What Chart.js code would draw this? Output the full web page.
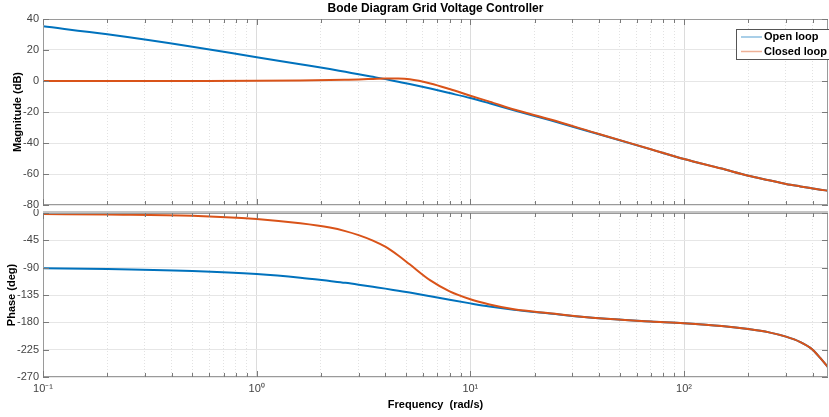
<!DOCTYPE html>
<html lang="en">
<head>
  <meta charset="UTF-8">
  <title>Bode Diagram Grid Voltage Controller</title>
  <style>
    html, body { margin: 0; padding: 0; background: #fff; overflow: hidden; }
    canvas { position: absolute; left: 0; }
    #magChart { top: 0; }
    #phaseChart { top: 209px; }
  </style>
</head>
<body>
  <canvas id="magChart" width="829" height="209"></canvas>
  <canvas id="phaseChart" width="829" height="208"></canvas>

  <script src="https://cdn.jsdelivr.net/npm/chart.js"></script>
  <script>
    // values (rad/s, dB, deg)
    const freqs      = [0.1, 0.2, 0.5, 1, 1.6, 2.2, 2.6, 3, 3.5, 4, 4.6, 5.2, 6.5, 8, 10, 12.3, 16, 23.5, 40, 70, 100, 150, 200, 250, 300, 350, 400, 435, 472];
    const openMag    = [35.3, 30.1, 22.1, 15.3, 10.8, 7.7, 5.9, 4.4, 2.7, 1.2, -0.5, -2.0, -4.9, -7.8, -11.0, -14.4, -18.9, -25.2, -34.4, -44.1, -50.3, -56.5, -61.1, -64.0, -66.4, -68.0, -69.3, -70.1, -70.8];
    const closedMag  = [0, 0, 0.05, 0.15, 0.35, 0.6, 0.8, 1.0, 1.35, 1.65, 1.6, 1.1, -1.6, -5.2, -9.5, -13.3, -18.4, -24.7, -34.2, -44.0, -50.3, -56.5, -61.1, -64.0, -66.4, -68.0, -69.3, -70.1, -70.8];
    const openPhase  = [-91, -92, -95.5, -100.5, -106.5, -112, -115, -118, -121.5, -124.5, -128, -131, -137, -142.8, -148.8, -154, -159.5, -165.5, -173.4, -178.5, -181.4, -186, -191, -196.5, -203.6, -212.5, -225, -239, -254];
    const closedPhase= [-1.6, -2.5, -4.5, -10, -17, -24, -29.8, -36.5, -45.5, -55.5, -70, -84.5, -111, -129, -142, -150.5, -158.5, -165, -173.4, -178.5, -181.4, -186, -191, -196.5, -203.6, -212.5, -225, -239, -254];

    const decades = [0.1, 1, 10, 100];
    const decadeLabels = ['10\u207B\u00B9', '10\u2070', '10\u00B9', '10\u00B2'];
    const seriesNames = ['Open loop', 'Closed loop'];
    const seriesColors = ['#0072BD', '#D95319'];

    const xMin = 0.1, xMax = 472;
    const FONT = '"Liberation Sans", Arial, sans-serif';

    const pts = (ys) => freqs.map((f, i) => ({ x: f, y: ys[i] }));

    // decade + minor ticks for the log axis
    function logTicks(scale) {
      const t = [];
      decades.forEach(d => {
        for (let m = 1; m <= 9; m++) {
          const v = d * m;
          if (v >= xMin && v <= xMax) t.push({ value: v, major: m === 1 });
        }
      });
      scale.ticks = t;
    }

    // box, inner tick marks, title and legend like the MATLAB figure
    const matlabAxes = {
      id: 'matlabAxes',
      afterDraw(chart, args, opts) {
        const { ctx, chartArea: a } = chart;
        const xs = chart.scales.x, ys = chart.scales.y;
        ctx.save();
        ctx.strokeStyle = '#9a9a9a';
        ctx.lineWidth = 1;
        ctx.strokeRect(a.left + 0.5, a.top + 0.5, a.right - a.left - 1, a.bottom - a.top - 1);
        if (opts.thickTop) {
          ctx.strokeStyle = '#c4c4c4';
          ctx.lineWidth = 2;
          ctx.beginPath();
          ctx.moveTo(a.left, a.top - 1); ctx.lineTo(a.right, a.top - 1);
          ctx.stroke();
          ctx.lineWidth = 1;
        }

        ctx.strokeStyle = '#7a7a7a';
        ctx.beginPath();
        xs.ticks.forEach(t => {
          const px = Math.round(xs.getPixelForValue(t.value)) + 0.5;
          const len = t.major ? 6 : 4;
          ctx.moveTo(px, a.bottom); ctx.lineTo(px, a.bottom - len);
          ctx.moveTo(px, a.top); ctx.lineTo(px, a.top + len);
        });
        ys.ticks.forEach(t => {
          const py = Math.round(ys.getPixelForValue(t.value)) + 0.5;
          ctx.moveTo(a.left, py); ctx.lineTo(a.left + 6, py);
          ctx.moveTo(a.right, py); ctx.lineTo(a.right - 6, py);
        });
        ctx.stroke();

        if (opts.title) {
          ctx.fillStyle = '#000';
          ctx.font = 'bold 12px ' + FONT;
          ctx.textAlign = 'center';
          ctx.textBaseline = 'middle';
          ctx.fillText(opts.title, (a.left + a.right) / 2, 9);
        }

        if (opts.legend) {
          const bx = a.right - 92, by = a.top + 10, bw = 100, bh = 30;
          ctx.fillStyle = '#fff';
          ctx.fillRect(bx, by, bw, bh);
          ctx.strokeStyle = '#555';
          ctx.strokeRect(bx + 0.5, by + 0.5, bw, bh);
          ctx.font = 'bold 11px ' + FONT;
          ctx.textAlign = 'left';
          ctx.textBaseline = 'middle';
          chart.data.datasets.forEach((ds, i) => {
            const cy = by + 8 + i * 14.5;
            ctx.globalAlpha = 0.45;
            ctx.strokeStyle = ds.borderColor;
            ctx.lineWidth = 1.5;
            ctx.beginPath();
            ctx.moveTo(bx + 5, cy); ctx.lineTo(bx + 26, cy);
            ctx.stroke();
            ctx.globalAlpha = 1;
            ctx.fillStyle = '#000';
            ctx.fillText(ds.label, bx + 28, cy);
          });
        }
        ctx.restore();
      }
    };

    function xScale(showLabels) {
      return {
        type: 'logarithmic',
        min: xMin,
        max: xMax,
        afterBuildTicks: logTicks,
        afterFit: (s) => { s.height = showLabels ? 40 : 0; },
        border: { display: false, dash: (c) => (c.tick && !c.tick.major) ? [1, 2] : [] },
        grid: {
          drawTicks: false,
          color: (c) => (c.tick && c.tick.major) ? '#dcdcdc' : '#e2e2e2',
          lineWidth: 1
        },
        ticks: {
          display: showLabels,
          autoSkip: false,
          maxRotation: 0,
          padding: 5,
          color: '#444',
          font: { family: FONT, size: 11 },
          callback: (v) => {
            const k = decades.indexOf(v);
            return k >= 0 ? decadeLabels[k] : '';
          }
        },
        title: {
          display: showLabels,
          text: 'Frequency  (rad/s)',
          color: '#000',
          font: { family: FONT, size: 11, weight: 'bold' },
          padding: { top: 0, bottom: 5 }
        }
      };
    }

    function yScale(min, max, step, label, titlePad) {
      return {
        min, max,
        afterFit: (s) => { s.width = 43; s.paddingTop = 0; s.paddingBottom = 0; },
        border: { display: false },
        grid: { drawTicks: false, color: '#e6e6e6', lineWidth: 1 },
        ticks: {
          stepSize: step,
          padding: 4,
          color: '#444',
          font: { family: FONT, size: 11 }
        },
        title: {
          display: true,
          text: label,
          color: '#000',
          font: { family: FONT, size: 11, weight: 'bold' },
          padding: { top: titlePad, bottom: 0 }
        }
      };
    }

    function makeDatasets(a, b) {
      return [a, b].map((ys, i) => ({
        label: seriesNames[i],
        data: pts(ys),
        borderColor: seriesColors[i],
        backgroundColor: seriesColors[i],
        borderWidth: 2,
        pointRadius: 0,
        fill: false,
        order: 1 - i,               // closed loop drawn on top
        cubicInterpolationMode: 'monotone'
      }));
    }

    const common = {
      responsive: false,
      animation: false,
      events: [],
      parsing: false
    };

    new Chart(document.getElementById('magChart'), {
      type: 'line',
      data: { datasets: makeDatasets(openMag, closedMag) },
      options: {
        ...common,
        layout: { padding: { top: 19, bottom: 4, left: 0, right: 1 } },
        scales: {
          x: xScale(false),
          y: yScale(-80, 40, 20, 'Magnitude (dB)', 11)
        },
        plugins: {
          legend: { display: false },
          tooltip: { enabled: false },
          matlabAxes: { title: 'Bode Diagram Grid Voltage Controller', legend: true }
        }
      },
      plugins: [matlabAxes]
    });

    new Chart(document.getElementById('phaseChart'), {
      type: 'line',
      data: { datasets: makeDatasets(openPhase, closedPhase) },
      options: {
        ...common,
        layout: { padding: { top: 4, bottom: 0, left: 0, right: 1 } },
        scales: {
          x: xScale(true),
          y: yScale(-270, 0, 45, 'Phase (deg)', 5)
        },
        plugins: {
          legend: { display: false },
          tooltip: { enabled: false },
          matlabAxes: { title: '', legend: false, thickTop: true }
        }
      },
      plugins: [matlabAxes]
    });
  </script>
</body>
</html>
